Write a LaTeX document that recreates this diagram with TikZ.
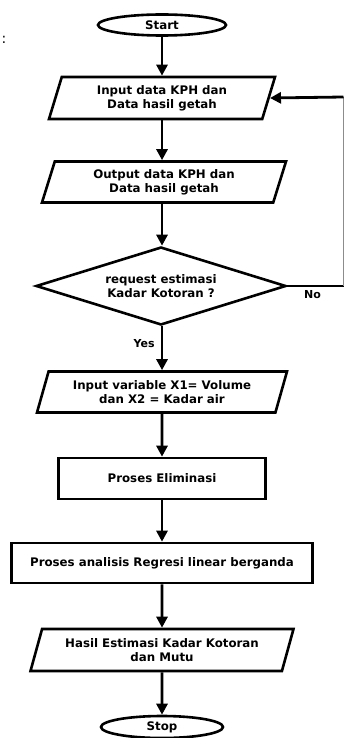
\documentclass[tikz,border=0pt]{standalone}
\usepackage{fontspec}
\setmainfont{DejaVu Sans}
\usetikzlibrary{shapes.geometric,arrows.meta}
\begin{document}
\begin{tikzpicture}[x=1pt,y=-1pt,
  base/.style={draw=black, line width=2.6pt, font=\bfseries\fontsize{11.8}{14}\selectfont, align=center, inner sep=0pt},
  term/.style={base, ellipse},
  io/.style={base, trapezium, trapezium left angle=63.4, trapezium right angle=116.6, trapezium stretches body},
  proc/.style={base, rectangle},
  decis/.style={base, diamond, aspect=3.2},
  line/.style={line width=2.8pt},
  arr/.style={line, -{Triangle[length=11pt,width=11pt]}},
  lbl/.style={font=\bfseries\fontsize{11}{12}\selectfont, inner sep=0pt}]
\useasboundingbox (0,0) rectangle (345,738);
\node[font=\fontsize{14}{14}\selectfont, inner sep=0pt] (colon) at (4,40) {:};
\node[term, minimum width=128pt, minimum height=21pt] (start) at (162,25) {Start};
\node[io, minimum width=226pt, minimum height=42pt] (in1) at (162,98) {Input data KPH dan\\Data hasil getah};
\node[io, minimum width=244pt, minimum height=41pt] (out1) at (164,182) {Output data KPH dan\\Data hasil getah};
\node[decis, minimum width=250pt, minimum height=78pt] (dec) at (161,286) {request estimasi\\Kadar Kotoran ?};
\node[io, minimum width=250pt, minimum height=41pt] (in2) at (162,392) {Input variable X1= Volume\\dan X2 = Kadar air};
\node[proc, minimum width=207pt, minimum height=41pt] (elim) at (162,478.5) {Proses Eliminasi};
\node[proc, minimum width=301pt, minimum height=40pt] (reg) at (162,563) {Proses analisis Regresi linear berganda};
\node[io, minimum width=263pt, minimum height=42pt] (hasil) at (162,650) {Hasil Estimasi Kadar Kotoran\\dan Mutu};
\node[term, minimum width=122pt, minimum height=22pt] (stop) at (162,727) {Stop};
\coordinate (loopB) at (343.5,286);
\coordinate (loopT) at (343.5,97);
\draw[arr] (start.south) -- (start.south |- in1.north);
\draw[arr] (in1.south) -- (in1.south |- out1.north);
\draw[arr] (out1.south -| in1.south) -- (in1.south |- dec.north);
\draw[arr] (dec.south -| in1.south) -- (in1.south |- in2.north) node[lbl, pos=0.4, left=6pt] (yes) {Yes};
\draw[arr] (in2.south) -- (elim.north);
\draw[arr] (elim.south) -- (reg.north);
\draw[arr] (reg.south) -- (hasil.north);
\draw[arr] (hasil.south) -- (stop.north);
\draw[line] (dec.east) -- (loopB) node[lbl, pos=0.45, below=3pt] (no) {No};
\draw[line width=1pt, black!45] (loopB) -- (loopT);
\draw[arr] (loopT) -- (in1.east);
\end{tikzpicture}
\end{document}
